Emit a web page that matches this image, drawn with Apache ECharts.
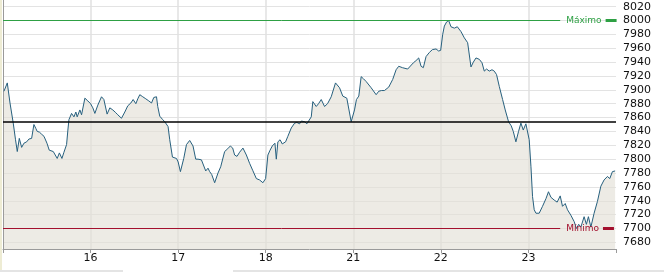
<!DOCTYPE html>
<html>
<head>
<meta charset="utf-8">
<script src="https://cdn.jsdelivr.net/npm/echarts@6/dist/echarts.min.js"></script>
<style>
html,body{margin:0;padding:0;background:#fff;}
#c{width:664px;height:272px;}
</style>
</head>
<body>
<div id="c"></div>
<script>
// Session tick labels (day boundaries)
const dayLabels = ['16', '17', '18', '21', '22', '23'];
// Time, in trading-day units from the start of day 15
const times = [
  // 15
  0.011,0.049,0.080,0.117,0.143,0.163,0.186,0.213,0.239,0.270,0.296,0.327,0.353,0.376,0.391,0.416,0.441,0.468,0.502,0.528,0.547,0.574,0.593,0.619,0.644,0.673,0.696,0.726,0.741,0.753,0.783,0.810,0.832,0.847,0.878,0.897,0.935,0.969,1.000,
  // 16
  1.026,1.049,1.083,1.125,1.152,1.189,1.220,1.254,1.288,1.311,1.353,1.391,1.425,1.460,1.486,1.517,1.539,1.562,1.596,1.631,1.665,1.696,1.722,1.753,1.767,1.790,1.824,1.847,1.885,1.904,1.935,1.981,2.000,
  // 17
  2.026,2.064,2.095,2.132,2.170,2.201,2.227,2.266,2.315,2.341,2.360,2.383,2.417,2.455,2.486,2.531,2.566,2.596,2.623,2.645,2.672,2.702,2.740,2.779,2.816,2.851,2.893,2.930,2.968,2.999,
  // 18
  3.025,3.050,3.075,3.105,3.121,3.139,3.164,3.189,3.227,3.253,3.292,3.330,3.356,3.387,3.406,3.417,3.444,3.470,3.520,3.538,3.577,3.603,3.634,3.672,3.706,3.748,3.797,3.843,3.880,3.926,3.945,3.976,3.994,
  // 21
  4.014,4.036,4.063,4.090,4.116,4.147,4.204,4.261,4.291,4.322,4.356,4.405,4.450,4.489,4.519,4.561,4.621,4.641,4.686,4.715,4.747,4.774,4.800,4.831,4.869,4.903,4.945,4.975,4.998,
  // 22
  5.021,5.040,5.066,5.089,5.116,5.154,5.188,5.230,5.268,5.306,5.344,5.371,5.401,5.439,5.470,5.496,5.522,5.553,5.584,5.610,5.636,5.667,5.705,5.735,5.773,5.804,5.827,5.857,5.887,5.914,5.941,5.971,5.990,
  // 23
  6.009,6.029,6.047,6.066,6.086,6.123,6.161,6.200,6.229,6.257,6.294,6.328,6.363,6.389,6.420,6.446,6.485,6.522,6.548,6.574,6.599,6.636,6.662,6.685,6.713,6.750,6.788,6.827,6.864,6.902,6.929,6.959,6.990
];
const prices = [
  // 15
  7898,7910,7881,7852,7828,7811,7830,7817,7823,7825,7829,7830,7850,7844,7840,7839,7836,7833,7823,7813,7815,7811,7809,7801,7809,7801,7810,7821,7842,7857,7866,7861,7868,7861,7871,7864,7888,7884,7880,
  // 16
  7874,7866,7878,7890,7886,7865,7874,7871,7867,7864,7859,7868,7877,7881,7886,7880,7887,7893,7890,7887,7884,7881,7889,7890,7876,7862,7857,7854,7847,7828,7803,7801,7796,
  // 17
  7782,7801,7821,7827,7819,7800,7800,7799,7783,7787,7782,7778,7766,7780,7789,7811,7815,7819,7816,7806,7804,7810,7816,7806,7794,7784,7772,7770,7766,7772,
  // 18
  7806,7813,7819,7823,7800,7825,7828,7822,7825,7833,7845,7852,7853,7851,7855,7857,7854,7851,7861,7883,7876,7880,7886,7876,7880,7890,7910,7903,7891,7888,7886,7854,7853,
  // 21
  7871,7886,7891,7919,7916,7912,7903,7893,7898,7899,7899,7904,7915,7929,7934,7932,7930,7932,7939,7942,7946,7934,7932,7948,7954,7958,7959,7956,7957,
  // 22
  7980,7992,7998,8000,7991,7989,7991,7984,7975,7968,7933,7940,7946,7944,7939,7927,7930,7927,7929,7927,7922,7905,7886,7871,7854,7848,7840,7825,7840,7852,7842,7851,7850,
  // 23
  7828,7789,7746,7727,7722,7722,7732,7743,7753,7745,7741,7738,7747,7732,7736,7727,7719,7710,7700,7706,7702,7717,7706,7717,7702,7722,7739,7761,7770,7775,7772,7782,7783
];
const prevClose = 7854;
const yMin = 7670.4, yMax = 8029.6;
const maxLabel = 'Máximo', minLabel = 'Mínimo';

const maxV = Math.max.apply(null, prices);
const minV = Math.min.apply(null, prices);
const seriesData = times.map((t, i) => [t, prices[i]]);
const labelEnd = 6.363;

function extremeLine(v, color, text) {
  return [
    { coord: [0, v],
      lineStyle: { color: color, width: 1, type: 'solid', opacity: 1 },
      label: {
        show: true, position: 'end', distance: 6,
        formatter: '{t|' + text + '}{g|}',
        rich: {
          t: { color: color, fontFamily: 'DejaVu Sans', fontSize: 9, padding: [0, 4, 0, 0], verticalAlign: 'middle' },
          g: { backgroundColor: color, width: 11, height: 3, verticalAlign: 'middle' }
        }
      } },
    { coord: [labelEnd, v] }
  ];
}

const chart = echarts.init(document.getElementById('c'), null, { renderer: 'canvas' });
chart.setOption({
  animation: false,
  backgroundColor: '#ffffff',
  grid: { left: 3, right: 48, top: 0, bottom: 23, containLabel: false },
  xAxis: {
    type: 'value', min: 0, max: 7, interval: 1,
    axisLine: { show: true, lineStyle: { color: '#9a9a9a', width: 1 } },
    axisTick: { show: true, length: 4, lineStyle: { color: '#9a9a9a' } },
    axisLabel: {
      color: '#111', fontFamily: 'DejaVu Sans', fontSize: 11, margin: 4,
      formatter: v => (v >= 1 && v <= dayLabels.length) ? dayLabels[v - 1] : ''
    },
    splitLine: { show: true, showMinLine: false, showMaxLine: false, lineStyle: { color: '#e0e0e0', width: 1.5 } }
  },
  yAxis: {
    type: 'value', position: 'right', min: yMin, max: yMax, splitNumber: 18,
    axisLine: { show: true, lineStyle: { color: '#9a9a9a', width: 1 } },
    axisTick: { show: false },
    axisLabel: {
      color: '#111', fontFamily: 'DejaVu Sans', fontSize: 11, margin: 7,
      showMinLabel: false, showMaxLabel: false,
      formatter: v => (Math.abs(v % 20) < 1e-6) ? String(Math.round(v)) : ''
    },
    splitLine: { show: true, showMinLine: false, showMaxLine: false, lineStyle: { color: '#e3e3e3', width: 1 } }
  },
  graphic: [
    { type: 'rect', left: 0, top: 0, shape: { width: 2, height: 272 }, style: { fill: '#eeecd4' }, silent: true },
    { type: 'rect', left: 0, top: 270, shape: { width: 123, height: 2 }, style: { fill: '#e4e4e4' }, silent: true },
    { type: 'rect', left: 233, top: 270, shape: { width: 431, height: 2 }, style: { fill: '#e4e4e4' }, silent: true }
  ],
  series: [{
    type: 'line',
    data: seriesData,
    showSymbol: false,
    symbol: 'none',
    lineStyle: { color: '#27607e', width: 1 },
    areaStyle: { origin: 'start', color: 'rgb(226,223,214)', opacity: 0.63 },
    markLine: {
      silent: true, symbol: 'none', animation: false,
      data: [
        [ { coord: [0, prevClose], lineStyle: { color: '#000', width: 1.5, type: 'solid' }, label: { show: false } },
          { coord: [7, prevClose] } ],
        extremeLine(maxV, '#2ea044', maxLabel),
        extremeLine(minV, '#a3102e', minLabel)
      ]
    }
  }]
});
</script>
</body>
</html>
